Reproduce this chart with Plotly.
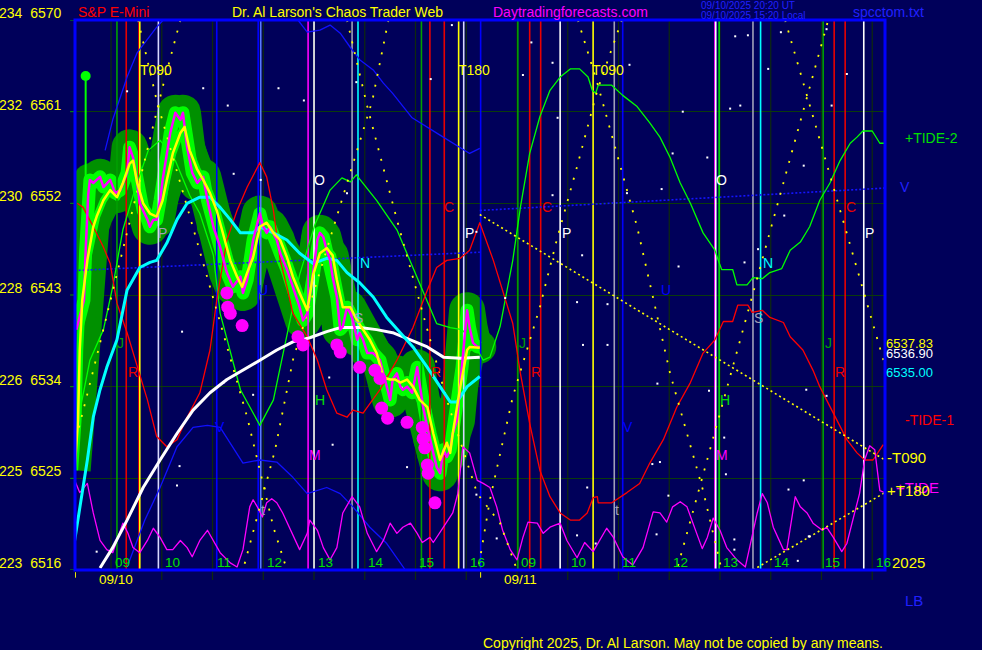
import plotly.graph_objects as go

# ---------------- data ----------------
# time axis = minutes after 09:00 on 09/10  (09:00 on 09/11 = 480)
PRICE_T = [-41, -37, -32, -30, -27, -25, -21, -17, -13, -9,
           -1, 5, 11, 19, 22, 26, 31, 34, 38, 43,
           46, 50, 54, 58, 61, 66, 70, 76, 82, 85,
           90, 96, 102, 105, 109, 114, 121, 129, 137, 144,
           153, 156, 161, 168, 176, 180, 184, 188, 196, 200,
           208, 215, 223, 227, 232, 239, 244, 247, 251, 255,
           259, 262, 267, 271, 274, 279, 283, 286, 291, 294,
           298, 303, 310, 318, 322, 326, 330, 333, 338, 342,
           345, 350, 356, 362, 365, 369, 374, 377, 381, 385,
           389, 393, 397, 401, 404, 409, 415, 419, 421, 424,
           428, 433, 436]
PRICE_V = [6539.6, 6541.0, 6542.5, 6547.4, 6552.8, 6554.3, 6554.0, 6554.3, 6554.6, 6553.6,
           6554.3, 6553.0, 6553.3, 6555.0, 6557.5, 6556.5, 6554.0, 6552.0, 6551.3, 6550.4,
           6549.7, 6550.4, 6550.4, 6552.3, 6554.3, 6556.9, 6558.9, 6560.9, 6560.2, 6560.9,
           6557.5, 6555.0, 6554.0, 6554.3, 6554.6, 6552.3, 6549.7, 6547.7, 6545.2, 6543.8,
           6544.8, 6543.2, 6544.5, 6548.4, 6551.0, 6549.7, 6549.1, 6549.7, 6548.4, 6547.1,
           6545.5, 6543.8, 6541.8, 6540.5, 6541.2, 6545.2, 6548.4, 6549.1, 6548.7, 6547.4,
           6546.4, 6544.8, 6542.8, 6539.6, 6539.9, 6541.8, 6541.2, 6540.5, 6538.6, 6539.3,
           6538.6, 6537.3, 6537.3, 6536.6, 6535.3, 6534.0, 6532.7, 6534.7, 6535.3, 6534.0,
           6533.7, 6534.0, 6533.4, 6535.9, 6534.0, 6532.0, 6530.0, 6528.8, 6527.5, 6526.1,
           6525.5, 6527.8, 6527.1, 6527.8, 6529.4, 6530.7, 6535.9, 6539.3, 6541.5, 6539.8,
           6538.3, 6537.9, 6537.9]

FAST_T = [-43, -39, -37, -34, -28, -21, -17, -9, -1, 7,
          14, 22, 26, 31, 38, 46, 54, 61, 66, 73,
          82, 87, 93, 102, 109, 117, 125, 132, 141, 149,
          155, 161, 168, 176, 184, 192, 200, 208, 215, 223,
          232, 239, 247, 255, 262, 267, 274, 283, 291, 298,
          306, 314, 322, 330, 336, 342, 350, 357, 365, 374,
          381, 389, 397, 401, 404, 413, 421, 424, 433, 436]
FAST_V = [6525.8, 6530.7, 6537.6, 6542.5, 6546.4, 6549.7, 6550.7, 6552.3, 6553.3, 6552.6,
          6554.0, 6555.9, 6556.2, 6554.0, 6552.0, 6551.0, 6550.7, 6552.3, 6554.3, 6556.9,
          6558.9, 6559.5, 6557.2, 6555.3, 6554.3, 6553.0, 6551.3, 6549.1, 6546.4, 6544.8,
          6543.8, 6545.2, 6546.7, 6549.7, 6550.1, 6549.1, 6548.4, 6546.7, 6544.8, 6543.2,
          6541.5, 6545.0, 6547.1, 6547.6, 6546.9, 6544.5, 6541.8, 6541.8, 6540.5, 6539.6,
          6538.6, 6537.3, 6534.9, 6534.7, 6534.7, 6534.4, 6534.7, 6534.0, 6532.7, 6532.0,
          6529.4, 6526.8, 6528.5, 6527.5, 6529.4, 6534.0, 6537.6, 6537.9, 6537.9, 6537.83]

MID_T = [-43, -37, -28, -21, -13, -5, 7, 19, 34, 46,
         54, 66, 78, 90, 105, 117, 129, 141, 153, 168,
         176, 192, 208, 223, 239, 255, 267, 279, 294, 310,
         326, 342, 357, 374, 389, 401, 409, 421, 436]
MID_V = [6518.9, 6521.9, 6526.8, 6531.0, 6533.7, 6535.9, 6538.6, 6543.5, 6545.7, 6546.2,
         6546.4, 6548.1, 6550.4, 6552.0, 6552.6, 6552.6, 6551.6, 6550.4, 6549.1, 6549.1,
         6549.7, 6549.1, 6548.4, 6547.1, 6546.1, 6546.6, 6546.4, 6545.2, 6544.2, 6542.8,
         6540.8, 6539.3, 6537.9, 6535.9, 6534.0, 6532.5, 6532.5, 6534.0, 6535.00]

SLOW_T = [-13, 2, 19, 38, 58, 78, 97, 117, 137, 156,
          176, 196, 215, 235, 255, 271, 294, 314, 333, 354,
          374, 393, 413, 436]
SLOW_V = [6516.2, 6518.2, 6520.9, 6524.1, 6526.8, 6529.4, 6531.7, 6533.4, 6534.7, 6535.6,
          6536.6, 6537.6, 6538.4, 6538.8, 6539.4, 6539.8, 6539.8, 6539.6, 6539.3, 6538.6,
          6537.9, 6536.9, 6536.8, 6536.90]

LOWS_T = [137, 138, 141, 155, 221, 227, 267, 271, 294, 312,
          318, 320, 327, 350, 368, 369, 371, 374, 375, 383]
LOWS_V = [6543.2, 6541.8, 6541.2, 6540.0, 6538.9, 6538.1, 6538.1, 6537.4, 6535.9, 6535.6,
          6534.8, 6531.9, 6530.9, 6530.5, 6530.0, 6528.9, 6528.0, 6526.3, 6525.5, 6522.6]

FIRST_T = [-30, -30]
FIRST_V = [6564.5, 6547.0]

TIDE2_T = [-39, -25, -9, 2, 14, 28, 44, 58, 76, 93,
           105, 121, 129, 153, 176, 192, 200, 212, 223, 241,
           259, 273, 283, 290, 300, 314, 338, 357, 369, 385,
           401, 415, 430, 440, 448, 460, 475, 484, 495, 507,
           519, 531, 543, 554, 564, 569, 573, 576, 592, 605,
           622, 637, 649, 661, 673, 685, 700, 714, 718, 722,
           735, 740, 752, 759, 770, 779, 793, 803, 815, 826,
           838, 850, 862, 874, 882, 889, 900, 909, 915]
TIDE2_V = [6530.7, 6536.6, 6539.6, 6543.8, 6549.4, 6553.3, 6557.2, 6558.2, 6556.2, 6552.8,
           6551.0, 6546.9, 6541.2, 6533.7, 6530.2, 6532.7, 6535.9, 6540.5, 6545.0, 6549.9,
           6553.3, 6554.5, 6554.1, 6554.8, 6553.8, 6552.3, 6549.4, 6545.7, 6543.5, 6540.2,
           6539.8, 6539.6, 6538.1, 6536.6, 6536.9, 6539.9, 6546.4, 6551.6, 6556.9, 6560.5,
           6563.1, 6564.4, 6565.2, 6565.2, 6564.4, 6563.1, 6562.8, 6563.6, 6563.6, 6562.6,
           6561.5, 6559.9, 6558.5, 6556.5, 6554.0, 6552.0, 6549.1, 6547.4, 6546.4, 6545.5,
           6545.5, 6544.0, 6544.0, 6544.7, 6544.6, 6545.2, 6545.6, 6547.4, 6548.2, 6549.7,
           6552.3, 6554.0, 6556.2, 6557.9, 6558.5, 6559.1, 6559.1, 6557.9, 6557.9]

TIDE1_T = [-40, -33, -21, -9, -1, 7, 19, 31, 43, 54,
           66, 78, 90, 105, 117, 125, 137, 149, 161, 176,
           184, 192, 200, 208, 215, 232, 244, 255, 267, 279,
           286, 298, 318, 338, 357, 374, 385, 397, 413, 424,
           436, 452, 463, 475, 484, 495, 507, 519, 531, 543,
           554, 563, 570, 575, 576, 592, 610, 625, 637, 653,
           669, 685, 700, 714, 724, 735, 741, 753, 758, 770,
           779, 795, 803, 818, 830, 838, 854, 870, 882, 891,
           901, 913]
TIDE1_V = [6552.0, 6551.6, 6549.7, 6547.7, 6546.1, 6542.2, 6539.3, 6535.9, 6532.7, 6529.1,
           6528.1, 6528.8, 6531.0, 6533.4, 6537.6, 6542.5, 6548.4, 6551.3, 6553.6, 6556.0,
           6554.6, 6551.3, 6546.4, 6543.8, 6541.2, 6538.9, 6536.6, 6533.7, 6531.4, 6531.0,
           6531.7, 6531.4, 6533.7, 6536.6, 6539.8, 6543.5, 6545.7, 6546.4, 6546.6, 6547.4,
           6550.1, 6546.4, 6543.5, 6540.2, 6535.3, 6530.4, 6525.8, 6523.2, 6521.6, 6520.9,
           6520.9, 6521.6, 6523.1, 6523.2, 6522.6, 6522.6, 6523.6, 6524.5, 6526.5, 6528.8,
           6532.0, 6534.4, 6537.3, 6538.6, 6540.4, 6540.4, 6542.0, 6542.0, 6541.3, 6541.5,
           6540.8, 6540.3, 6538.9, 6537.6, 6535.6, 6534.0, 6531.4, 6528.8, 6527.5, 6526.8,
           6526.8, 6528.3]

TIDE_T = [-43, -37, -28, -21, -13, -5, 2, 8, 14, 20,
          26, 34, 43, 50, 58, 66, 73, 82, 90, 96,
          105, 114, 121, 129, 141, 149, 156, 164, 168, 173,
          179, 184, 190, 196, 203, 212, 223, 232, 235, 244,
          251, 259, 267, 274, 285, 294, 303, 314, 322, 330,
          338, 345, 354, 362, 368, 377, 381, 393, 404, 410,
          416, 424, 433, 440, 448, 456, 463, 472, 480, 487,
          493, 504, 511, 519, 531, 539, 551, 560, 570, 586,
          594, 605, 617, 629, 641, 649, 657, 664, 673, 681,
          688, 699, 705, 712, 720, 728, 740, 750, 755, 764,
          770, 776, 783, 795, 799, 805, 809, 815, 823, 830,
          841, 846, 854, 864, 870, 877, 885, 891, 897, 903,
          909, 915]
TIDE_V = [6524.8, 6523.6, 6524.5, 6521.6, 6518.9, 6518.0, 6517.7, 6519.2, 6520.6, 6519.6,
          6518.2, 6517.7, 6518.9, 6520.1, 6519.2, 6518.0, 6518.0, 6518.9, 6518.2, 6517.3,
          6518.9, 6519.9, 6518.9, 6517.7, 6516.7, 6516.3, 6518.0, 6522.2, 6522.9, 6522.2,
          6521.2, 6522.6, 6523.0, 6522.6, 6521.6, 6519.9, 6518.0, 6519.6, 6520.9, 6519.9,
          6518.2, 6517.0, 6518.2, 6521.6, 6523.2, 6522.2, 6519.6, 6517.8, 6518.9, 6520.6,
          6519.6, 6520.2, 6520.6, 6519.6, 6518.7, 6519.2, 6518.7, 6520.2, 6521.6, 6523.5,
          6528.1, 6527.5, 6524.8, 6524.5, 6524.1, 6522.2, 6519.9, 6518.0, 6517.0, 6519.2,
          6520.7, 6520.6, 6519.6, 6520.2, 6520.6, 6518.9, 6517.2, 6518.7, 6517.8, 6520.1,
          6519.2, 6517.3, 6516.5, 6518.2, 6521.7, 6521.6, 6520.7, 6522.2, 6522.7, 6522.2,
          6520.6, 6518.1, 6519.2, 6521.1, 6519.9, 6518.2, 6517.0, 6516.3, 6518.2, 6521.6,
          6523.5, 6522.6, 6520.2, 6518.0, 6518.0, 6521.2, 6523.2, 6522.2, 6521.6, 6520.6,
          6519.9, 6520.2, 6519.2, 6517.8, 6518.6, 6520.9, 6523.5, 6526.8, 6528.2, 6527.8,
          6523.8, 6523.6]

VUP_T = [-7, 2, 19, 31, 54, 64, None, 218, 221, 232,
         247, 259, 271, 283, 294, 310, 322, 333, 345, 356,
         389, 424, 436]
VUP_V = [6557.2, 6560.2, 6564.4, 6566.8, 6569.3, 6570.2, None, 6570.2, 6570.0, 6568.8,
         6569.0, 6569.5, 6568.7, 6567.3, 6566.1, 6565.1, 6563.8, 6562.8, 6561.5, 6560.4,
         6558.7, 6556.9, 6557.4]
VLOW_T = [19, 40, 58, 78, 97, 114, 129, 144, 156, 176,
          196, 215, 232, 255, 271, 286, 306, 326, 348]
VLOW_V = [6516.3, 6520.9, 6524.1, 6528.1, 6530.0, 6530.2, 6530.0, 6528.1, 6526.5, 6526.8,
          6526.6, 6525.1, 6523.5, 6524.1, 6523.5, 6522.2, 6520.2, 6518.6, 6516.0]

VTREND1_T = [-43, 436]
VTREND1_V = [6545.4, 6547.2]
VTREND2_T = [436, 915]
VTREND2_V = [6551.3, 6553.5]
T090_LINE_T = [436, 915]
T090_LINE_V = [6550.9, 6526.8]
T180_LINE_T = [759, 915]
T180_LINE_V = [6516.0, 6523.6]

# dotted cycle curves (pairs crossing in V's near the top)
CYC1_T = [32, 54, 161, 192, 208]
CYC1_V = [6570.0, 6562.1, 6531.0, 6520.2, 6516.0]
CYC2_T = [82, 61, -15, -43]
CYC2_V = [6570.0, 6563.4, 6537.6, 6528.3]
CYC3_T = [328, 309, 215, 194, 156]
CYC3_V = [6570.0, 6562.1, 6536.6, 6527.8, 6516.0]
CYC4_T = [279, 303, 338, 397, 433, 460, 480]
CYC4_V = [6570.0, 6561.5, 6550.4, 6532.7, 6523.5, 6520.6, 6516.0]
CYC5_T = [552, 575, 622, 661, 700, 722]
CYC5_V = [6570.0, 6563.8, 6549.7, 6535.3, 6523.8, 6516.0]
CYC6_T = [604, 575, 551, 527, 507, 475, 448, 434]
CYC6_V = [6570.0, 6563.1, 6555.6, 6548.4, 6541.8, 6533.0, 6522.9, 6516.0]
CYC7_T = [797, 915]
CYC7_V = [6570.0, 6536.1]
CYC8_T = [847, 669]
CYC8_V = [6569.7, 6516.0]

# vertical event lines (minutes)
VL_T = [7, 18, 33, 34, 56, 125, 174, 177, 233, 240, 285, 292,
        367, 377, 394, 411, 417, 437, 481, 495, 508, 531, 570,
        595, 605, 714, 715, 719, 759, 768, 842, 855, 868, 890]
VL_KIND = ["g", "r", "r", "y", "l", "b", "b", "lb", "m", "w", "gr", "c",
           "g", "r", "r", "y", "l", "b", "g", "r", "r", "w", "y",
           "gr", "b", "m", "w", "G", "gr", "c", "g", "r", "r", "w"]

HOUR_T = [0, 60, 120, 180, 240, 300, 360, 420, 480, 540, 600, 660, 720, 780, 840, 900]
HOUR_LBL = ["09", "10", "11", "12", "13", "14", "15", "16",
            "09", "10", "11", "12", "13", "14", "15", "16"]

Y_TICKS = [6516, 6525, 6534, 6543, 6552, 6561, 6570]
Y_LBL = ["223  6516", "225  6525", "226  6534", "228  6543", "230  6552", "232  6561", "234  6570"]

LETTERS = ["T090", "T180", "T090", "O", "O", "N", "N", "P", "P", "P", "P",
           "C", "C", "C", "R", "R", "R", "R", "H", "H", "M", "M",
           "J", "J", "J", "V", "V", "U", "U", "S", "S", "t", "t"]
LET_T = [53, 429, 588, 247, 722, 300, 777, 61, 424, 538, 897,
         400, 515, 875, 26, 384, 502, 862, 247, 726, 241, 722,
         11, 486, 848, 129, 611, 180, 656, 292, 765, 180, 598]
LET_V = [6565.1, 6565.1, 6565.1, 6554.3, 6554.3, 6546.1, 6546.1, 6549.1, 6549.1, 6549.1, 6549.1,
         6551.6, 6551.6, 6551.6, 6535.4, 6535.4, 6535.4, 6535.4, 6532.7, 6532.7, 6527.3, 6527.3,
         6538.3, 6538.3, 6538.3, 6530.0, 6530.0, 6543.5, 6543.5, 6540.7, 6540.7, 6521.9, 6521.9]
LET_KIND = ["y", "y", "y", "w", "w", "c", "c", "gr", "w", "w", "w",
            "r", "r", "r", "r", "r", "r", "r", "G", "G", "m", "m",
            "g", "g", "g", "b", "b", "b", "b", "gr", "gr", "gr", "gr"]

STAR_T = [753, 777, 792, 738, 732, 846, 870, 852, 676, 403, 497, 522, 613, 378, 290,
          19, 109, 138, 198, 228, 487, 528, 664, 705, 522, 610, 651, 796, 819, 466,
          587, 671, 749, 765, 558, 587, 646, 707, 822, 846, 563, 573, 649, 725, 801,
          432, 456, 551, 659, 737, 826, 645, 737, 825, 812, -17, 78, 84, 168, 133,
          81, 258, 262, 350, 344, 432, 551, 557, 640, 727, 819, 744, 177, 145, 279]
STAR_V = [6568.5, 6565.2, 6568.8, 6568.4, 6561.3, 6569.1, 6564.7, 6561.6, 6561.0, 6569.5,
          6567.8, 6565.8, 6565.6, 6564.2, 6563.9, 6563.0, 6563.3, 6561.6, 6563.3, 6562.1,
          6564.6, 6560.4, 6556.9, 6556.5, 6552.8, 6553.0, 6553.4, 6550.8, 6555.7, 6542.7,
          6542.1, 6545.8, 6546.2, 6547.5, 6538.1, 6538.1, 6534.3, 6533.6, 6533.7, 6533.1,
          6524.1, 6518.6, 6526.6, 6529.0, 6523.9, 6523.4, 6519.1, 6519.4, 6523.3, 6519.0,
          6519.3, 6519.5, 6518.0, 6519.3, 6516.9, 6517.8, 6524.3, 6539.4, 6533.2, 6534.4,
          6526.2, 6534.9, 6528.3, 6526.1, 6533.9, 6549.2, 6542.3, 6546.9, 6526.4, 6525.4,
          6524.8, 6561.6, 6554.3, 6554.9, 6553.0]

LAST_VAL = [6537.83, 6536.90, 6535.00]

# ---------------- styles ----------------
BG = "#00005A"
COL = {"g": "#00A000", "G": "#00E000", "r": "#E80000", "y": "#FFFF00", "l": "#D8D8FF",
       "b": "#0000FF", "lb": "#5878FF", "m": "#FF00FF", "w": "#FFFFFF", "gr": "#A0A0B8",
       "c": "#00FFFF"}
FONT = "Liberation Sans, Arial, sans-serif"
X0, X1 = -42.6, 915.1
Y0, Y1 = 6516, 6570

fig = go.Figure()


def add_line(x, y, color, width, dash=None):
    fig.add_trace(go.Scatter(x=x, y=y, mode="lines", hoverinfo="skip", showlegend=False,
                             line=dict(color=color, width=width, dash=dash)))


# glow around price and its fast average
add_line(PRICE_T, PRICE_V, "#009000", 36)
add_line(FAST_T, FAST_V, "#009000", 32)
fig.add_trace(go.Scatter(x=PRICE_T, y=PRICE_V, mode="markers", hoverinfo="skip", showlegend=False,
                         marker=dict(color="#009000", size=33, line=dict(width=0))))
add_line(PRICE_T, PRICE_V, "#00FF00", 13)
add_line(FAST_T, FAST_V, "#00FF00", 7)
add_line(FIRST_T, FIRST_V, "#00FF00", 2)

# vertical event lines
for t, k in zip(VL_T, VL_KIND):
    add_line([t, t], [Y0, Y1], COL[k], 1.6)

# forecast curves
add_line(VUP_T, VUP_V, "#1010FF", 1.3)
add_line(VLOW_T, VLOW_V, "#1010FF", 1.3)
add_line(VTREND1_T, VTREND1_V, "#1414FF", 1.6, "2px,2px")
add_line(VTREND2_T, VTREND2_V, "#1414FF", 1.6, "2px,2px")
add_line(TIDE2_T, TIDE2_V, "#00FF00", 1.3)
add_line(TIDE1_T, TIDE1_V, "#FF0000", 1.3)
add_line(TIDE_T, TIDE_V, "#FF00FF", 1.3)
add_line(T090_LINE_T, T090_LINE_V, "#FFFF00", 1.6, "2px,3px")
add_line(T180_LINE_T, T180_LINE_V, "#FFFF00", 1.6, "2px,3px")
for xs, ys in [(CYC1_T, CYC1_V), (CYC2_T, CYC2_V), (CYC3_T, CYC3_V), (CYC4_T, CYC4_V),
               (CYC5_T, CYC5_V), (CYC6_T, CYC6_V), (CYC7_T, CYC7_V), (CYC8_T, CYC8_V)]:
    add_line(xs, ys, "#FFFF00", 1.8, "2px,9px")

fig.add_trace(go.Scatter(x=STAR_T, y=STAR_V, mode="markers", hoverinfo="skip", showlegend=False,
                         marker=dict(color="#FFFFFF", size=2, symbol="square", line=dict(width=0))))

# averages and price
add_line(SLOW_T, SLOW_V, "#FFFFFF", 3)
add_line(MID_T, MID_V, "#00FFFF", 3)
add_line(PRICE_T, PRICE_V, "#FF00FF", 2.5)
add_line(FAST_T, FAST_V, "#FFFF00", 2.5)
fig.add_trace(go.Scatter(x=LOWS_T, y=LOWS_V, mode="markers", hoverinfo="skip", showlegend=False,
                         marker=dict(color="#FF00FF", size=13, line=dict(width=0))))
fig.add_trace(go.Scatter(x=FIRST_T[:1], y=FIRST_V[:1], mode="markers", hoverinfo="skip",
                         showlegend=False, marker=dict(color="#00FF00", size=10, line=dict(width=0))))

# ---------------- layout ----------------
shapes = []
for t in HOUR_T:
    shapes.append(dict(type="line", xref="x", yref="paper", x0=t, x1=t, y0=-0.018, y1=1,
                       line=dict(color="#0E2A0E", width=1.2), layer="below"))
for v in Y_TICKS:
    shapes.append(dict(type="line", xref="paper", yref="y", x0=-0.006, x1=0, y0=v, y1=v,
                       line=dict(color="#00A000", width=1)))
for t in [X0 + 0.5, 437]:
    shapes.append(dict(type="line", xref="x", yref="paper", x0=t, x1=t, y0=-0.004, y1=-0.014,
                       line=dict(color="#FFFF00", width=1)))
shapes.append(dict(type="rect", xref="paper", yref="paper", x0=0, x1=1, y0=0, y1=1,
                   line=dict(color="#0000FF", width=3), layer="above"))

ann = []


def text(x, y, s, color, size=14, xref="paper", yref="paper", xanchor="left", yanchor="middle",
         yshift=0):
    ann.append(dict(x=x, y=y, xref=xref, yref=yref, text=s, showarrow=False, xanchor=xanchor,
                    yanchor=yanchor, yshift=yshift, font=dict(color=color, size=size, family=FONT)))


for v, s in zip(Y_TICKS, Y_LBL):
    text(-0.0148, v, s.replace(" ", "\u00a0"), "#FFFF00", 14, yref="y", xanchor="right",
         yanchor="bottom", yshift=-3)
for t, s in zip(HOUR_T, HOUR_LBL):
    text(t + 13, Y0, s, "#00E000", 13.5, xref="x", yref="y", xanchor="center", yanchor="bottom",
         yshift=-2)
text(0.027, -0.0164, "09/10", "#FFFF00", 13.5)
text(0.527, -0.0164, "09/11", "#FFFF00", 13.5)

for s, t, v, k in zip(LETTERS, LET_T, LET_V, LET_KIND):
    text(t, v, s, COL[k], 14, xref="x", yref="y", xanchor="center")

text(0.0012, 1.0145, "S&P E-Mini", "#FF0000", 14)
text(0.1914, 1.0145, "Dr. Al Larson's Chaos Trader Web", "#FFFF00", 14)
text(0.5136, 1.0145, "Daytradingforecasts.com", "#FF00FF", 14)
text(0.7704, 1.0255, "09/10/2025 20:20 UT", "#2020FF", 10)
text(0.7704, 1.0082, "09/10/2025 15:20 Local", "#2020FF", 10)
text(0.958, 1.0145, "spcctom.txt", "#2020FF", 14)

text(1.0222, 6558.4, "+TIDE-2", "#00E000", 14, yref="y")
text(1.016, 6553.6, "V", "#2020FF", 14, yref="y")
for v, c in zip(LAST_VAL, ["#FFFF00", "#FFFFFF", "#00FFFF"]):
    text(0.999, v, f"{v:.2f}", c, 13, yref="y", yshift=4)
text(1.0222, 6530.7, "-TIDE-1", "#FF0000", 14, yref="y")
text(1.011, 6524.1, "+TIDE", "#FF00FF", 15, yref="y")
text(1.0, T090_LINE_V[-1], "-T090", "#FFFF00", 15, yref="y", yshift=3)
text(1.0, T180_LINE_V[-1], "+T180", "#FFFF00", 15, yref="y", yshift=2)
text(1.006, 6516.7, "2025", "#FFFF00", 15, yref="y")
text(1.0222, -0.055, "LB", "#2020FF", 15)
text(0.5012, -0.1327, "Copyright 2025, Dr. Al Larson. May not be copied by any means.", "#FFFF00", 14)

fig.update_layout(
    width=982, height=650, margin=dict(l=75, r=97, t=20, b=80),
    paper_bgcolor=BG, plot_bgcolor=BG, showlegend=False,
    xaxis=dict(range=[X0, X1], showgrid=False, zeroline=False, showticklabels=False, showline=False),
    yaxis=dict(range=[Y0, Y1], tickvals=Y_TICKS[1:-1], showgrid=True, gridcolor="#0B3A0B",
               gridwidth=1.2, zeroline=False, showticklabels=False, showline=False),
    shapes=shapes, annotations=ann,
)

POST = ("document.body.style.margin='0';document.body.style.overflow='hidden';"
        "document.body.style.background='" + BG + "';"
        "document.querySelectorAll('.scatterlayer .js-line').forEach(function(p){"
        "p.style.strokeLinejoin='round';});")
fig.write_html("out.html", post_script=POST, config={"displayModeBar": False})
